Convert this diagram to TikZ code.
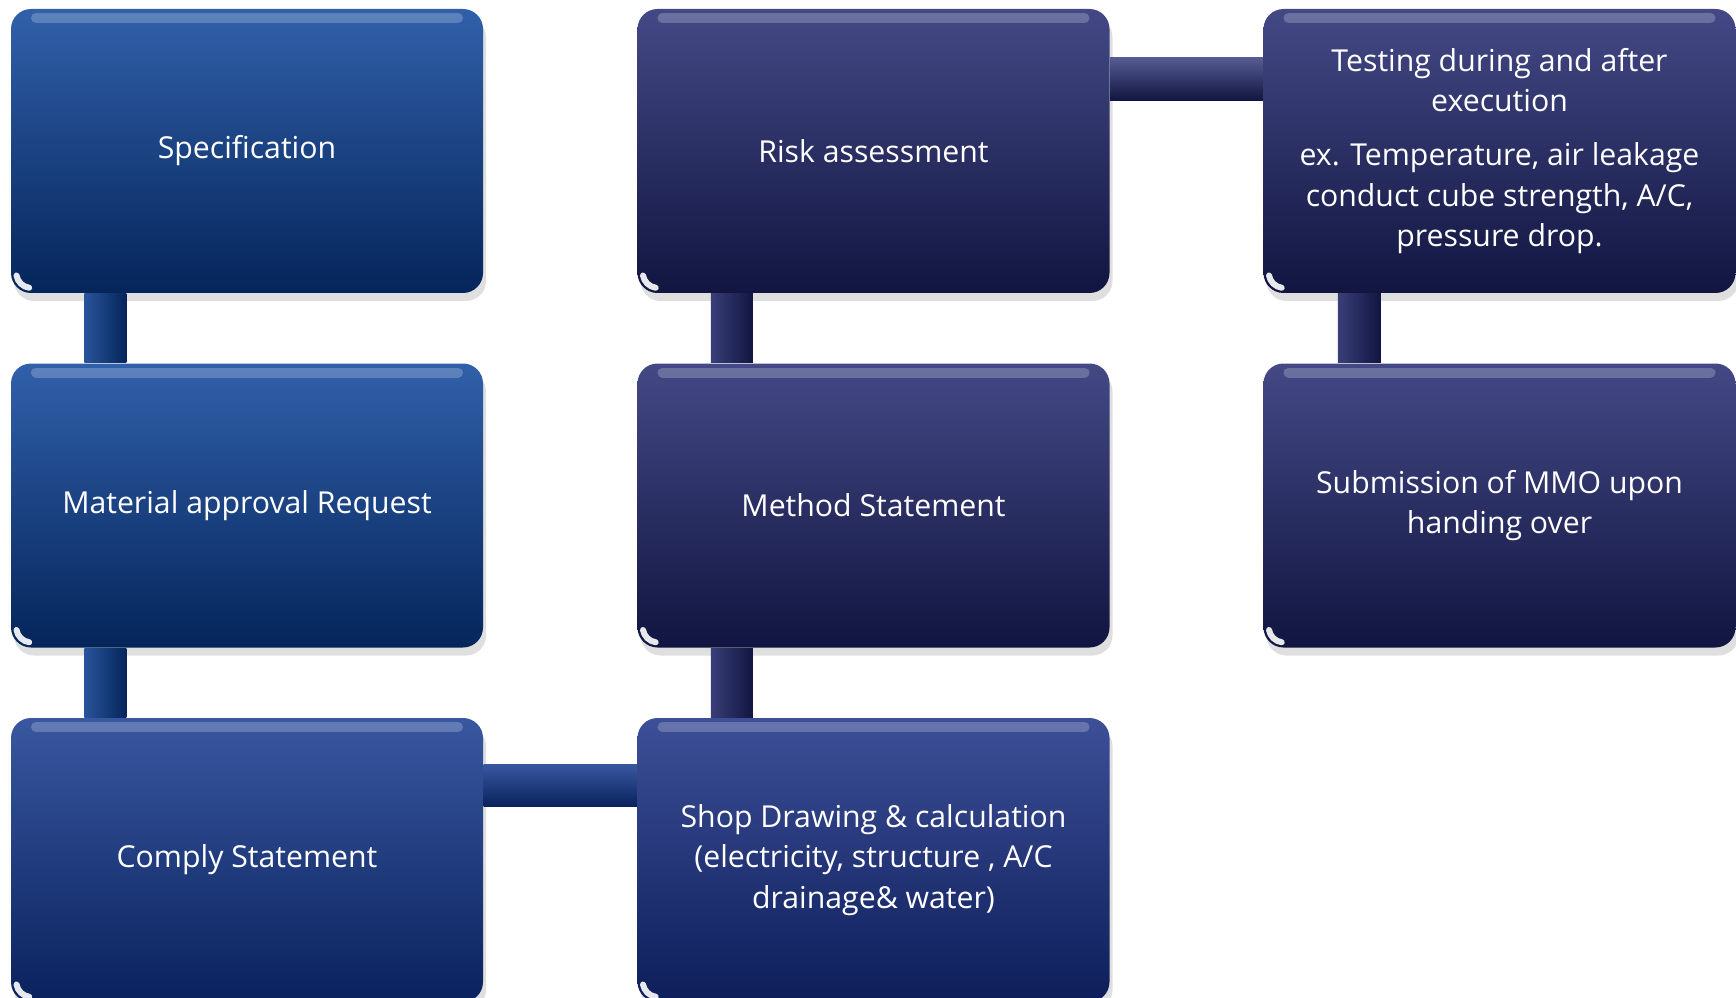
\documentclass[tikz,border=0pt]{standalone}
\usepackage{fontspec}
\setmainfont{Open Sans}
\usetikzlibrary{shadows}

\definecolor{blueTop}{RGB}{49,96,170}
\definecolor{blueBot}{RGB}{5,37,90}
\definecolor{complyTop}{RGB}{57,87,160}
\definecolor{complyBot}{RGB}{10,34,93}
\definecolor{navyTop}{RGB}{68,73,134}
\definecolor{navyBot}{RGB}{17,21,64}
\definecolor{shopTop}{RGB}{61,79,151}
\definecolor{shopBot}{RGB}{13,30,90}

\begin{document}
\begin{tikzpicture}[
    x = 0.1mm,
    y = -0.1mm,
    font = \fontsize{8.6}{11.5}\selectfont,
    box/.style = {
      rounded corners = 2mm,
      minimum width = 47.2mm,
      minimum height = 28.4mm,
      align = center,
      text = white,
      drop shadow = {shadow xshift = 0.3mm, shadow yshift = -0.8mm,
                     opacity = 0.25},
      path picture = {
        \draw[white, opacity = 0.22, line width = 1mm, line cap = round]
          ([xshift = 2.5mm, yshift = -0.9mm]path picture bounding box.north west)
          -- ([xshift = -2.5mm, yshift = -0.9mm]path picture bounding box.north east);
        \draw[white, opacity = 0.9, line width = 0.6mm, line cap = round]
          ([xshift = 0.55mm, yshift = 1.75mm]path picture bounding box.south west)
          arc[start angle = 190, end angle = 262, radius = 1.5mm];
      }
    },
    bluebox/.style = {box, top color = blueTop, bottom color = blueBot},
    navybox/.style = {box, top color = navyTop, bottom color = navyBot}
  ]
  \useasboundingbox (0,0) rectangle (1736,998);

  % first column
  \node[bluebox] (spec) at (247,151) {\raisebox{-0.5mm}{Specification}};
  \node[bluebox] (mar)  at (247,505.5) {Material approval Request};
  \node[box, top color = complyTop, bottom color = complyBot] (comply)
    at (247,860) {Comply Statement};

  % second column
  \node[navybox] (risk)   at (873.5,151) {Risk assessment};
  \node[navybox] (method) at (873.5,505.5) {Method Statement};
  \node[box, top color = shopTop, bottom color = shopBot] (shop)
    at (873.5,860) {Shop Drawing \& calculation\\(electricity, structure , A/C\\
    drainage\& water)};

  % third column
  \node[navybox] (test) at (1499.5,151) {Testing during and after\\execution\\[1.4mm]
    ex. Temperature, air leakage\\conduct cube strength, A/C,\\pressure drop.};
  \node[navybox] (mmo)  at (1499.5,505.5) {Submission of MMO upon\\handing over};

  % links
  \shade[left color = blueTop!80!blueBot, right color = blueBot]
    ([xshift = 7.4mm]spec.south west) rectangle ([xshift = 11.6mm]mar.north west);
  \shade[left color = blueTop!80!blueBot, right color = blueBot]
    ([xshift = 7.4mm]mar.south west) rectangle ([xshift = 11.6mm]comply.north west);
  \shade[left color = navyTop!80!navyBot, right color = navyBot]
    ([xshift = 7.4mm]risk.south west) rectangle ([xshift = 11.6mm]method.north west);
  \shade[left color = navyTop!80!navyBot, right color = navyBot]
    ([xshift = 7.4mm]method.south west) rectangle ([xshift = 11.6mm]shop.north west);
  \shade[left color = navyTop!80!navyBot, right color = navyBot]
    ([xshift = 7.5mm]test.south west) rectangle ([xshift = 11.8mm]mmo.north west);
  \shade[top color = navyTop!90, bottom color = navyBot]
    ([yshift = -4.9mm]risk.north east) rectangle ([yshift = -9.2mm]test.north west);
  \shade[top color = complyTop, bottom color = complyBot]
    ([yshift = -4.7mm]comply.north east) rectangle ([yshift = -8.9mm]shop.north west);
\end{tikzpicture}
\end{document}
